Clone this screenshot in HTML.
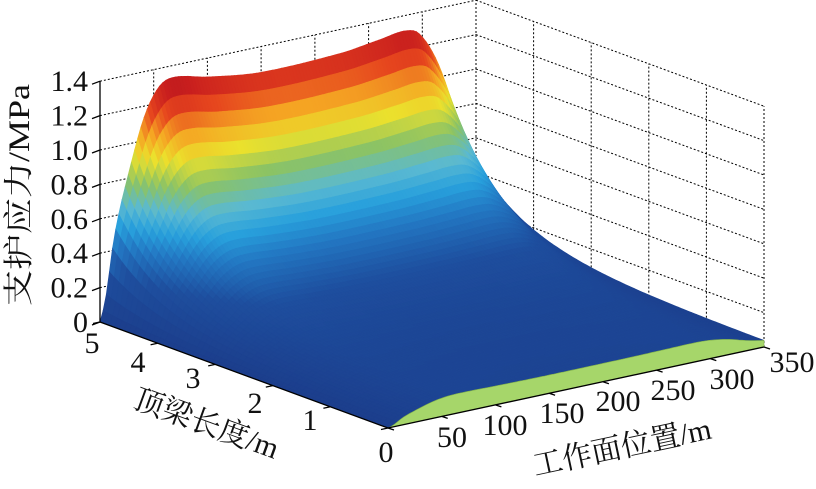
<!DOCTYPE html>
<html><head><meta charset="utf-8">
<style>
html,body{margin:0;padding:0;background:#fff;}
svg{display:block;}
text{font-family:"Liberation Serif","Noto Serif CJK SC",serif;}
</style></head>
<body>
<svg id="s" width="816" height="489" viewBox="0 0 816 489" xmlns="http://www.w3.org/2000/svg">
<g id="grid" stroke="#000" stroke-width="1" stroke-dasharray="2,2" fill="none"></g>
<g id="surf"></g>
<g id="axes" stroke="#000" stroke-width="1.3" fill="none"></g>
<g id="labels" font-size="30" fill="#111" font-family="Liberation Serif, Noto Serif CJK SC, serif"></g>
</svg>
<script>
(function(){
function P(x,b,z){return [388+376*x/350-288*b/5, 428-81*x/350-106*b/5-172*z];}
var NS="http://www.w3.org/2000/svg";
function el(tag,attrs,parent,text){var e=document.createElementNS(NS,tag);for(var k in attrs)e.setAttribute(k,attrs[k]);if(text!==undefined)e.textContent=text;parent.appendChild(e);return e;}
function line(p,q,g){el('line',{x1:p[0].toFixed(1),y1:p[1].toFixed(1),x2:q[0].toFixed(1),y2:q[1].toFixed(1)},g);}
var grid=document.getElementById('grid');
var x,z,b,i,j,p;
for(x=0;x<=350;x+=50){line(P(x,5,0),P(x,5,1.4),grid);}
for(z=0;z<=1.401;z+=0.2){line(P(0,5,z),P(350,5,z),grid);line(P(350,5,z),P(350,0,z),grid);}
for(b=0;b<=5;b++){line(P(350,b,0),P(350,b,1.4),grid);}
var pts=[[0,0],[5,0.12],[14,0.5],[28,0.86],[42,1.15],[56,1.30],[70,1.33],[100,1.29],[149,1.25],[223,1.26],[260,1.29],[284,1.31],[298,1.27],[316,1.06],[335,0.68],[350,0.45]];
function H(x){for(var i=0;i<pts.length-1;i++){var a=pts[i],c=pts[i+1];if(x<=c[0]){var t=(x-a[0])/(c[0]-a[0]);
 var m0=i>0?(c[1]-pts[i-1][1])/(c[0]-pts[i-1][0]):(c[1]-a[1])/(c[0]-a[0]);
 var m1=i<pts.length-2?(pts[i+2][1]-a[1])/(pts[i+2][0]-a[0]):(c[1]-a[1])/(c[0]-a[0]);
 var h=c[0]-a[0],t2=t*t,t3=t2*t;
 return Math.max(0,(2*t3-3*t2+1)*a[1]+(t3-2*t2+t)*h*m0+(-2*t3+3*t2)*c[1]+(t3-t2)*h*m1);}}return pts[pts.length-1][1];}
var k=1.0,E=Math.exp(5*k)-1;
function S(b){return 0.085+0.915*(Math.exp(k*b)-1)/E;}
function Z(x,b){return H(x)*S(b);}
var cm=[[0,[28,62,140]],[0.2,[30,78,158]],[0.32,[35,120,195]],[0.4,[40,160,220]],[0.48,[90,185,210]],[0.58,[140,195,100]],[0.68,[235,225,45]],[0.77,[245,165,35]],[0.86,[230,70,30]],[0.95,[200,30,30]],[1,[165,25,30]]];
function col(v){v=Math.max(0,Math.min(1,v));for(var i=0;i<cm.length-1;i++){if(v<=cm[i+1][0]){var t=(v-cm[i][0])/(cm[i+1][0]-cm[i][0]);var a=cm[i][1],c=cm[i+1][1];return 'rgb('+Math.round(a[0]+(c[0]-a[0])*t)+','+Math.round(a[1]+(c[1]-a[1])*t)+','+Math.round(a[2]+(c[2]-a[2])*t)+')';}}return 'rgb(165,25,30)';}
function ps(q){return q.map(function(p){return p[0].toFixed(1)+','+p[1].toFixed(1)}).join(' ');}
var surf=document.getElementById('surf');
var NX=120,NB=60,html='';
for(j=NB-1;j>=0;j--){var b0=5*j/NB,b1=5*(j+1)/NB;
 for(i=NX-1;i>=0;i--){var x0=350*i/NX,x1=350*(i+1)/NX;
  var q=[P(x0,b0,Z(x0,b0)),P(x1,b0,Z(x1,b0)),P(x1,b1,Z(x1,b1)),P(x0,b1,Z(x0,b1))];
  var zm=(Z(x0,b0)+Z(x1,b0)+Z(x1,b1)+Z(x0,b1))/4;
  var c=col(zm/1.34);
  html+='<polygon points="'+ps(q)+'" fill="'+c+'" stroke="'+c+'" stroke-width="0.7"/>';
 }}
var tp=[],bt=[];
for(i=0;i<=NX;i++){x=350*i/NX;tp.push(P(x,0,Z(x,0)));bt.push(P(x,0,0));}
var poly=tp.concat(bt.reverse());
html+='<polygon points="'+ps(poly)+'" fill="#a6d66a" stroke="#7fae4a" stroke-width="0.6"/>';
surf.innerHTML=html;
var ax=document.getElementById('axes');
line(P(0,5,0),P(0,5,1.4),ax);line(P(0,0,0),P(350,0,0),ax);line(P(0,0,0),P(0,5,0),ax);
for(z=0;z<=1.401;z+=0.2){p=P(0,5,z);line(p,[p[0]-8,p[1]+3],ax);}
for(x=0;x<=350;x+=50){p=P(x,0,0);line(p,[p[0]+6,p[1]+2],ax);}
for(b=0;b<=5;b++){p=P(0,b,0);line(p,[p[0]-7,p[1]+1.5],ax);}
var lab=document.getElementById('labels');
var zl=['0','0.2','0.4','0.6','0.8','1.0','1.2','1.4'];
for(i=0;i<8;i++){p=P(0,5,i*0.2);el('text',{x:88,y:(p[1]+10).toFixed(1),'text-anchor':'end'},lab,zl[i]);}
var xl=[[452,437,'50'],[505,425,'100'],[562,413,'150'],[618,401,'200'],[673,390,'250'],[732,379,'300'],[792,362,'350']];
xl.forEach(function(a){el('text',{x:a[0],y:a[1]+10,'text-anchor':'middle'},lab,a[2]);});
var bl=[[92,343,'5'],[138,362,'4'],[193,378,'3'],[255,403,'2'],[310,420,'1'],[386,452,'0']];
bl.forEach(function(a){el('text',{x:a[0],y:a[1]+10,'text-anchor':'middle'},lab,a[2]);});
el('text',{x:0,y:0,'text-anchor':'middle',transform:'translate(29,195) rotate(-90)',textLength:222,lengthAdjust:'spacingAndGlyphs'},lab,'支护应力/MPa');
el('text',{x:0,y:0,'text-anchor':'middle',transform:'translate(203,433) rotate(20)'},lab,'顶梁长度/m');
el('text',{x:0,y:0,'text-anchor':'middle',transform:'translate(624,457) rotate(-12)'},lab,'工作面位置/m');
})();
</script>
</body></html>
